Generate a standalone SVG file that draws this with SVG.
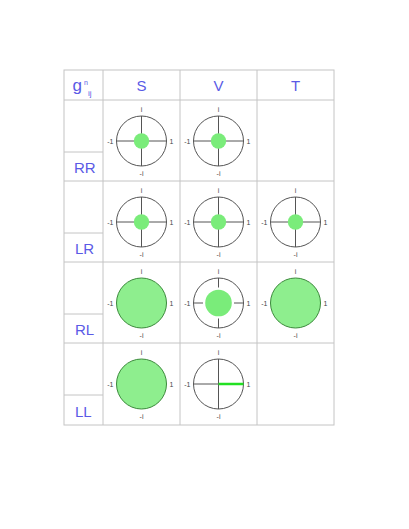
<svg xmlns="http://www.w3.org/2000/svg" width="409" height="529" viewBox="0 0 409 529">
<defs>
<style>
.grid{stroke:#c4c4c4;stroke-width:1;fill:none}
.hdr{font-family:"Liberation Sans",Arial,sans-serif;font-size:15px;fill:#5a5ae6}
.sm{font-family:"Liberation Sans",Arial,sans-serif;font-size:7px;fill:#444}
.ring{fill:none;stroke:#555;stroke-width:1}
.ax{stroke:#555;stroke-width:1}
.dot{fill:#7aec7a}
.full{fill:#8eee8e;stroke:#3b8a3b;stroke-width:1}
</style>
<g id="ticks">
<text class="sm" x="0" y="-29" text-anchor="middle">i</text>
<text class="sm" x="0" y="35" text-anchor="middle">-i</text>
<text class="sm" x="-28" y="2.5" text-anchor="end">-1</text>
<text class="sm" x="28" y="2.5">1</text>
</g>
<g id="smallDot">
<circle class="ring" r="25"/>
<line class="ax" x1="-25" y1="0" x2="25" y2="0"/>
<line class="ax" x1="0" y1="-25" x2="0" y2="25"/>
<circle class="dot" r="7.7"/>
<use href="#ticks"/>
</g>
<g id="fullDisk">
<circle class="full" r="25"/>
<use href="#ticks"/>
</g>
</defs>
<rect width="409" height="529" fill="#fff"/>
<g id="table" class="grid">
<rect x="64" y="70" width="270" height="355"/>
<line x1="103" y1="70" x2="103" y2="425"/>
<line x1="180" y1="70" x2="180" y2="425"/>
<line x1="257" y1="70" x2="257" y2="425"/>
<line x1="64" y1="100" x2="334" y2="100"/>
<line x1="64" y1="181" x2="334" y2="181"/>
<line x1="64" y1="262" x2="334" y2="262"/>
<line x1="64" y1="343" x2="334" y2="343"/>
<line x1="64" y1="152" x2="103" y2="152"/>
<line x1="64" y1="233" x2="103" y2="233"/>
<line x1="64" y1="314" x2="103" y2="314"/>
<line x1="64" y1="395" x2="103" y2="395"/>
</g>
<g id="headers">
<text class="hdr" x="72.5" y="91" style="font-size:17px">g</text>
<text class="hdr" x="84" y="85" style="font-size:7px">n</text>
<text class="hdr" x="88" y="96" style="font-size:8px">ij</text>
<text class="hdr" x="141.5" y="91" text-anchor="middle">S</text>
<text class="hdr" x="218.5" y="91" text-anchor="middle">V</text>
<text class="hdr" x="295.5" y="91" text-anchor="middle">T</text>
<text class="hdr" x="74" y="173">RR</text>
<text class="hdr" x="75" y="254">LR</text>
<text class="hdr" x="75" y="335">RL</text>
<text class="hdr" x="75" y="417">LL</text>
</g>
<g id="RR-S" transform="translate(141.5,141)"><use href="#smallDot"/></g>
<g id="RR-V" transform="translate(218.5,141)"><use href="#smallDot"/></g>
<g id="LR-S" transform="translate(141.5,222)"><use href="#smallDot"/></g>
<g id="LR-V" transform="translate(218.5,222)"><use href="#smallDot"/></g>
<g id="LR-T" transform="translate(295.5,222)"><use href="#smallDot"/></g>
<g id="RL-S" transform="translate(141.5,303)"><use href="#fullDisk"/></g>
<g id="RL-V" transform="translate(218.5,303)">
<circle class="ring" r="25"/>
<line class="ax" x1="-25" y1="0" x2="-15.5" y2="0"/>
<line class="ax" x1="15.5" y1="0" x2="25" y2="0"/>
<line class="ax" x1="0" y1="-25" x2="0" y2="-15.5"/>
<line class="ax" x1="0" y1="15.5" x2="0" y2="25"/>
<circle class="dot" r="13.3"/>
<use href="#ticks"/>
</g>
<g id="RL-T" transform="translate(295.5,303)"><use href="#fullDisk"/></g>
<g id="LL-S" transform="translate(141.5,384)"><use href="#fullDisk"/></g>
<g id="LL-V" transform="translate(218.5,384)">
<circle class="ring" r="25"/>
<line class="ax" x1="-25" y1="0" x2="0" y2="0"/>
<line class="ax" x1="0" y1="-25" x2="0" y2="25"/>
<line x1="0" y1="0" x2="25" y2="0" stroke="#22e022" stroke-width="2.5"/>
<use href="#ticks"/>
</g>
</svg>
